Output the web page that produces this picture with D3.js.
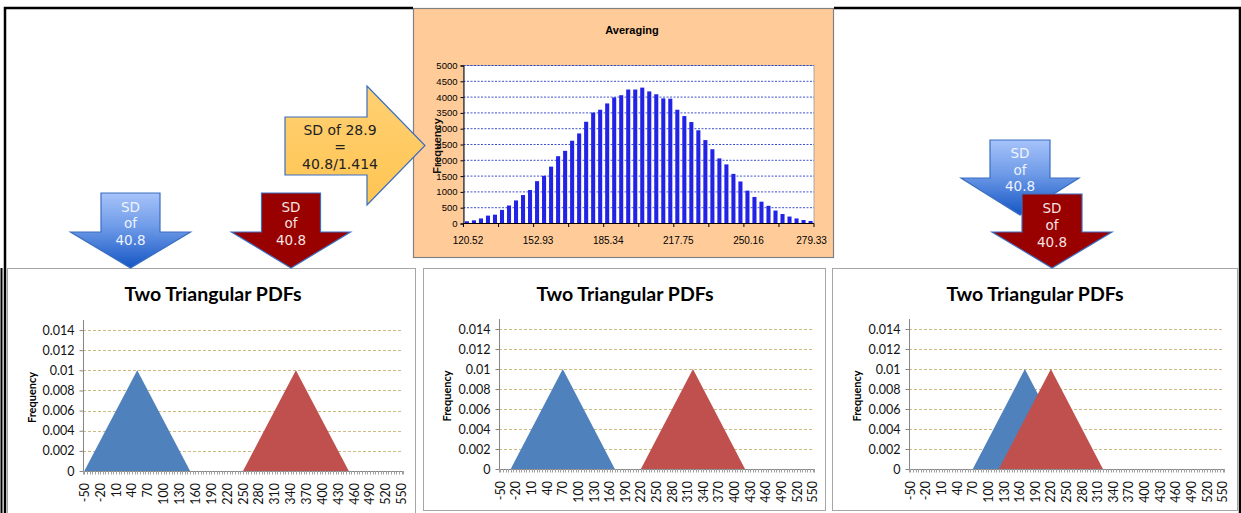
<!DOCTYPE html>
<html><head><meta charset="utf-8">
<script src="https://cdn.jsdelivr.net/npm/d3@7"></script>
<style>body{margin:0;background:#fff}svg{display:block}</style>
</head><body>
<svg id="c" width="1241" height="513"></svg>
<script>
// ---------- DATA ----------
const histBins = ["120.52","123.76","127.00","130.24","133.48","136.73","139.97","143.21","146.45","149.69",
  "152.93","156.17","159.41","162.65","165.89","169.14","172.38","175.62","178.86","182.10",
  "185.34","188.58","191.82","195.06","198.30","201.55","204.79","208.03","211.27","214.51",
  "217.75","220.99","224.23","227.47","230.71","233.96","237.20","240.44","243.68","246.92",
  "250.16","253.40","256.64","259.88","263.12","266.37","269.61","272.85","276.09","279.33"];
const histCounts = [70,100,160,250,280,430,570,730,900,1060,
  1340,1510,1800,2130,2300,2620,2850,3220,3510,3600,
  3800,3990,4060,4240,4240,4300,4180,4090,3960,3950,
  3600,3400,3210,2950,2640,2350,2060,1870,1570,1330,
  1040,840,690,560,410,300,220,160,110,80];
const histLabelBins = ["120.52","152.93","185.34","217.75","250.16","279.33"];
const histYTicks = [0,500,1000,1500,2000,2500,3000,3500,4000,4500,5000];

const pdfXLabels = [-50,-20,10,40,70,100,130,160,190,220,250,280,310,340,370,400,430,460,490,520,550];
const pdfYTicks = [0,0.002,0.004,0.006,0.008,0.01,0.012,0.014];
// triangle vertices [x, density]
const panel1Blue = [[-50,0],[50,0.01],[150,0]];
const panel1Red  = [[250,0],[350,0.01],[450,0]];
const panel2Blue = [[-30,0],[70,0.01],[170,0]];
const panel2Red  = [[220,0],[320,0.01],[420,0]];
const panel3Blue = [[70,0],[170,0.01],[270,0]];
const panel3Red  = [[120,0],[220,0.01],[320,0]];
const panelTitle = "Two Triangular PDFs";
const arrowText = ["SD","of","40.8"];
const avgText = ["SD of 28.9","=","40.8/1.414"];

// ---------- DRAW ----------
const svg = d3.select("#c");
const defs = svg.append("defs");
const g1 = defs.append("linearGradient").attr("id","blueGrad").attr("x1",0).attr("y1",0).attr("x2",0).attr("y2",1);
g1.append("stop").attr("offset","0%").attr("stop-color","#a7c3fa");
g1.append("stop").attr("offset","45%").attr("stop-color","#6f9be8");
g1.append("stop").attr("offset","100%").attr("stop-color","#1556c4");
const g2 = defs.append("linearGradient").attr("id","yelGrad").attr("x1",0).attr("y1",0).attr("x2",0).attr("y2",1);
g2.append("stop").attr("offset","0%").attr("stop-color","#ffd073");
g2.append("stop").attr("offset","100%").attr("stop-color","#ffc552");

// outer frame
svg.append("path").attr("d","M5,513 V8 H413 M834,8 H1240 V513")
  .attr("fill","none").attr("stroke","#000").attr("stroke-width",2.5);
svg.append("line").attr("x1",1.5).attr("x2",1.5).attr("y1",268).attr("y2",513).attr("stroke","#000").attr("stroke-width",2);

// ---- panels ----
const panels = [
  {bx:7,  bw:408, by:268, bh:250, x0:83,  x1:403,  yTop:320, y0:471, tx:213,  fx:32,  blue:panel1Blue, red:panel1Red},
  {bx:423,bw:402, by:268, bh:242, x0:499, x1:814,  yTop:319, y0:469, tx:625, fx:447, blue:panel2Blue, red:panel2Red},
  {bx:832,bw:405, by:268, bh:242, x0:909, x1:1224, yTop:319, y0:469, tx:1035, fx:857, blue:panel3Blue, red:panel3Red}
];
panels.forEach(p=>{
  const g = svg.append("g");
  g.append("rect").attr("x",p.bx+0.5).attr("y",p.by+0.5).attr("width",p.bw).attr("height",p.bh)
    .attr("fill","#fff").attr("stroke","#a6a6a6");
  g.append("text").attr("x",p.tx).attr("y",301).attr("text-anchor","middle")
    .attr("font-family","Lato, 'Open Sans', sans-serif").attr("font-weight","bold").attr("font-size",19.5)
    .attr("fill","#000").text(panelTitle);
  const x = d3.scaleLinear().domain([-52.5,552.5]).range([p.x0,p.x1]);
  const y = d3.scaleLinear().domain([0,0.015]).range([p.y0,p.yTop]);
  // gridlines
  g.append("g").selectAll("line").data(pdfYTicks.filter(d=>d>0)).join("line")
    .attr("x1",p.x0).attr("x2",p.x1).attr("y1",d=>Math.round(y(d))+0.5).attr("y2",d=>Math.round(y(d))+0.5)
    .attr("stroke","#cdb982").attr("stroke-dasharray","3,2").attr("stroke-width",1);
  // areas
  const area = d3.area().x(d=>x(d[0])).y0(y(0)).y1(d=>y(d[1]));
  g.append("path").datum(p.blue).attr("d",area).attr("fill","#4f81bd");
  g.append("path").datum(p.red).attr("d",area).attr("fill","#c0504d");
  // y axis
  const ya = g.append("g").attr("transform",`translate(${p.x0+0.5},0)`)
    .call(d3.axisLeft(y).tickValues(pdfYTicks).tickSize(4).tickFormat(d=>d===0?"0":d3.format("")(+d.toFixed(3))));
  ya.select(".domain").attr("stroke","#868686").attr("d",`M-0,${p.yTop}V${p.y0}`);
  ya.selectAll(".tick line").attr("stroke","#868686");
  ya.selectAll(".tick text").attr("x",-9).attr("font-family","Lato, sans-serif").attr("font-size",12.5).attr("fill","#111");
  // x axis
  const minor = d3.range(-50,551,5);
  g.append("line").attr("x1",p.x0).attr("x2",p.x1).attr("y1",Math.round(p.y0)+0.5).attr("y2",Math.round(p.y0)+0.5).attr("stroke","#868686");
  g.append("g").selectAll("line").data(minor.concat([552.5,-52.5])).join("line")
    .attr("x1",d=>Math.round(x(d))+0.5).attr("x2",d=>Math.round(x(d))+0.5)
    .attr("y1",Math.round(p.y0)).attr("y2",Math.round(p.y0)+3.5).attr("stroke","#a0a0a0");
  g.append("g").selectAll("text").data(pdfXLabels).join("text")
    .attr("transform",d=>`translate(${x(d)+4.5},${p.y0+12}) rotate(-90)`)
    .attr("text-anchor","end").attr("font-family","Lato, sans-serif").attr("font-size",12.5).attr("fill","#111")
    .text(d=>d);
  g.append("text").attr("transform",`translate(${p.fx},${(p.yTop+p.y0)/2+2}) rotate(-90)`)
    .attr("text-anchor","middle").attr("dy","0.35em").attr("font-family","Lato, sans-serif").attr("font-weight","bold")
    .attr("font-size",11).attr("fill","#000").text("Frequency");
});

// ---- histogram box ----
const hb = svg.append("g");
hb.append("rect").attr("x",413.5).attr("y",8.5).attr("width",420).attr("height",249)
  .attr("fill","#ffcc99").attr("stroke","#808080").attr("stroke-width",1.2);
hb.append("text").attr("x",632).attr("y",34).attr("text-anchor","middle")
  .attr("font-family","'Liberation Sans', Arial, sans-serif").attr("font-weight","bold").attr("font-size",11).text("Averaging");
const hx = d3.scaleBand().domain(histBins).range([463.5,814]).paddingInner(0.42).paddingOuter(0.2);
const hy = d3.scaleLinear().domain([0,5000]).range([223.5,65.5]);
hb.append("rect").attr("x",463.5).attr("y",65.5).attr("width",350.5).attr("height",158).attr("fill","#fff").attr("stroke","#9a9a9a").attr("stroke-width",0.8);
hb.append("g").selectAll("line").data(histYTicks.filter(d=>d>0)).join("line")
  .attr("x1",463.5).attr("x2",814).attr("y1",d=>hy(d)).attr("y2",d=>hy(d))
  .attr("stroke","#2a3fc8").attr("stroke-dasharray","2,1.5").attr("stroke-width",0.9);
hb.append("g").selectAll("rect").data(histCounts).join("rect")
  .attr("x",(d,i)=>hx(histBins[i])).attr("width",hx.bandwidth())
  .attr("y",d=>hy(d)).attr("height",d=>hy(0)-hy(d)).attr("fill","#2323e6");
const hya = hb.append("g").attr("transform","translate(463.5,0)")
  .call(d3.axisLeft(hy).tickValues(histYTicks).tickSize(3).tickFormat(d3.format("d")));
hya.select(".domain").attr("stroke","#000");
hya.selectAll(".tick line").attr("stroke","#000");
hya.selectAll(".tick text").attr("x",-6).attr("font-family","'Liberation Sans', Arial, sans-serif").attr("font-size",9.5).attr("fill","#000");
// x axis
const hxa = d3.scaleLinear().domain([0,histBins.length]).range([463.5,814]);
hb.append("line").attr("x1",463.5).attr("x2",814).attr("y1",223.5).attr("y2",223.5).attr("stroke","#000");
hb.append("g").selectAll("line").data(d3.range(0,histBins.length+1,5)).join("line")
  .attr("x1",d=>hxa(d)).attr("x2",d=>hxa(d)).attr("y1",223.5).attr("y2",227).attr("stroke","#000");
hb.append("g").selectAll("text").data(histLabelBins).join("text")
  .attr("x",d=>hx(d)+hx.bandwidth()/2+1).attr("y",244).attr("text-anchor","middle")
  .attr("font-family","'Liberation Sans', Arial, sans-serif").attr("font-size",10).text(d=>d);

// ---- arrows ----
function downArrow(cx, top, bhw, headY, hhw, tip, fill, textYs, tcol){
  const pts = [[cx-bhw,top],[cx+bhw,top],[cx+bhw,headY],[cx+hhw,headY],[cx,tip],[cx-hhw,headY],[cx-bhw,headY]];
  svg.append("path").attr("d","M"+pts.map(p=>p.join(",")).join("L")+"Z")
    .attr("fill",fill).attr("stroke","#3a6ec0").attr("stroke-width",1.2);
  svg.append("g").selectAll("text").data(arrowText).join("text")
    .attr("x",cx).attr("y",(d,i)=>textYs[i]).attr("dy","0.36em").attr("text-anchor","middle")
    .attr("font-family","'DejaVu Sans', Verdana, sans-serif").attr("font-size",13.5).attr("fill",tcol).text(d=>d);
}
downArrow(130.5,193,29.5,232,60,268,"url(#blueGrad)",[207,223,240],"#eef3ff");
downArrow(291,193,29.5,232,59.5,268,"#990000",[207,223,240],"#f4e4e4");
downArrow(1020,140,30,178,59,215,"url(#blueGrad)",[153,170,186],"#eef3ff");
downArrow(1052,194,30,232,60,268,"#990000",[208,225,242],"#f4e4e4");

// right arrow
const ra = [[285,117],[367,117],[367,86],[425,145.5],[367,205],[367,175],[285,175]];
svg.append("path").attr("d","M"+ra.map(p=>p.join(",")).join("L")+"Z")
  .attr("fill","url(#yelGrad)").attr("stroke","#3a6ec0").attr("stroke-width",1.2);
svg.append("g").selectAll("text").data(avgText).join("text")
  .attr("x",340).attr("y",(d,i)=>[130,147,164][i]).attr("dy","0.36em").attr("text-anchor","middle")
  .attr("font-family","'DejaVu Sans', Verdana, sans-serif").attr("font-size",14).attr("fill","#222").text(d=>d);
// histogram Frequency label drawn above arrow
svg.append("text").attr("transform","translate(437,146) rotate(-90)").attr("text-anchor","middle").attr("dy","0.35em")
  .attr("font-family","'Liberation Sans', Arial, sans-serif").attr("font-weight","bold").attr("font-size",11).attr("fill","#111").text("Frequency");
</script>
</body></html>
